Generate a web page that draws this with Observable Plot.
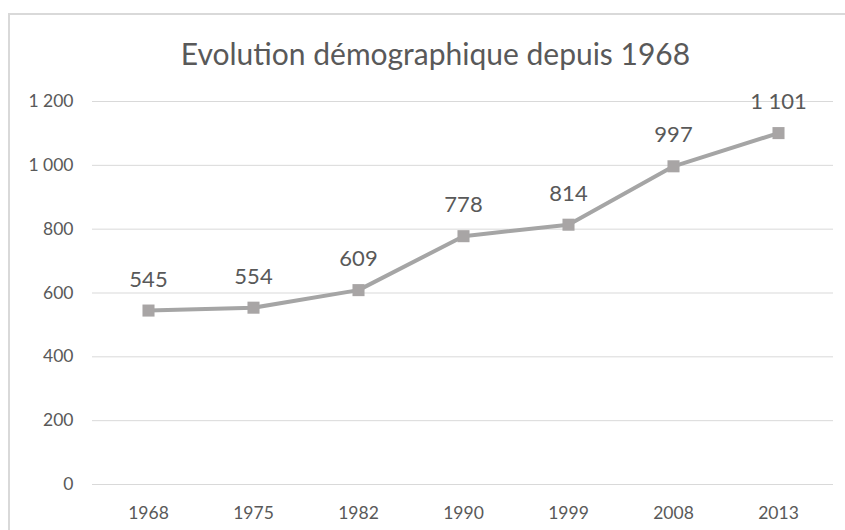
<!DOCTYPE html>
<html>
<head>
<meta charset="utf-8">
<script src="https://cdn.jsdelivr.net/npm/d3@7"></script>
<script src="https://cdn.jsdelivr.net/npm/@observablehq/plot@0.6"></script>
<style>
  html, body { margin: 0; padding: 0; background: #fff; }
  body { width: 845px; height: 530px; position: relative; overflow: hidden; font-family: Lato, "Open Sans", sans-serif; }
  #frame { position: absolute; left: 8px; top: 13px; width: 845px; height: 530px; border-left: 2px solid #d9d9d9; border-top: 2px solid #d9d9d9; }
  #title { position: absolute; left: 0; top: 0; width: 845px; height: 80px; text-align: center; font-size: 30px; color: #595959; line-height: 1; }
  #title span { position: absolute; left: 0; right: 0; top: 38px; padding-left: 26px; }
  #chart { position: absolute; left: 0; top: 80px; }
</style>
</head>
<body>
<div id="frame"></div>
<div id="title"><span>Evolution démographique depuis 1968</span></div>
<div id="chart"></div>
<script>
const years = ["1968", "1975", "1982", "1990", "1999", "2008", "2013"];
const population = [545, 554, 609, 778, 814, 997, 1101];
const yTicks = [0, 200, 400, 600, 800, 1000, 1200];

const data = years.map((y, i) => ({year: y, value: population[i]}));
const fmt = d3.formatLocale({decimal: ",", thousands: "\u00a0", grouping: [3], currency: ["", " €"]}).format(",d");

const chart = Plot.plot({
  width: 845,
  height: 450,
  marginTop: 21,
  marginBottom: 46,
  marginLeft: 92,
  marginRight: 12,
  style: {fontFamily: "Lato, 'Open Sans', sans-serif", color: "#595959", background: "transparent"},
  x: {type: "point", domain: years, padding: 0.5, label: null},
  y: {domain: [0, 1200], label: null},
  marks: [
    Plot.gridY(yTicks, {stroke: "#d9d9d9", strokeOpacity: 1, strokeWidth: 1}),
    Plot.axisY(yTicks, {tickSize: 0, tickPadding: 19, tickFormat: fmt, fontSize: 17.5, fill: "#595959", label: null}),
    Plot.axisX(years, {tickSize: 0, tickPadding: 22, fontSize: 17.5, fill: "#595959", label: null}),
    Plot.lineY(data, {x: "year", y: "value", stroke: "#a5a5a5", strokeWidth: 4}),
    Plot.dot(data, {x: "year", y: "value", symbol: "square", r: 6.8, fill: "#a8a5a5", stroke: "none"}),
    Plot.text(data, {x: "year", y: "value", text: d => fmt(d.value), dy: -31, fontSize: 22, fill: "#595959"})
  ]
});
document.getElementById("chart").appendChild(chart);
</script>
</body>
</html>
